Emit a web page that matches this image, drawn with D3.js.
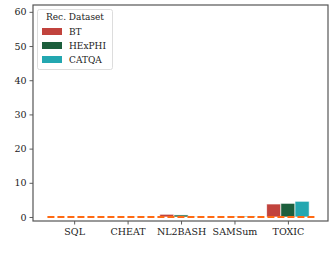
<!DOCTYPE html>
<html>
<head>
<meta charset="utf-8">
<script src="https://cdn.jsdelivr.net/npm/d3@7"></script>
<style>
  body { margin: 0; background: #fff; }
  text { font-family: "DejaVu Serif", serif; }
</style>
</head>
<body>
<div id="chart"></div>
<script>
var categories = ["SQL", "CHEAT", "NL2BASH", "SAMSum", "TOXIC"];
var seriesNames = ["BT", "HExPHI", "CATQA"];
var btValues = [0, 0, 0.8, 0, 3.8];
var hexphiValues = [0, 0, 0.6, 0.1, 4.0];
var catqaValues = [0, 0.05, 0.1, 0.3, 4.6];
var yTicks = [0, 10, 20, 30, 40, 50, 60];
var baseline = 0;

var colors = ["#c1433d", "#1c5e3c", "#23a7b0"];
var series = [btValues, hexphiValues, catqaValues];

var svgWidth = 332, svgHeight = 263;
var plotLeft = 33, plotRight = 328, plotTop = 5, plotBottom = 221;

var svg = d3.select("#chart").append("svg")
  .attr("width", svgWidth)
  .attr("height", svgHeight);

var x = d3.scaleLinear().domain([-0.77, 4.75]).range([plotLeft, plotRight]);
var y = d3.scaleLinear().domain([-1.17, 62]).range([plotBottom, plotTop]);

var barW = 0.265;

// bars
series.forEach(function(vals, s) {
  svg.append("g").selectAll("rect")
    .data(vals)
    .enter()
    .append("rect")
    .attr("x", function(d, i) { return x(i + (s - 1) * barW - barW / 2); })
    .attr("width", x(barW) - x(0))
    .attr("y", function(d) { return y(d); })
    .attr("height", function(d) { return y(0) - y(d); })
    .attr("fill", colors[s])
    .attr("stroke", "#fff")
    .attr("stroke-width", 0.8)
    .attr("stroke-opacity", 0.8);
});

// dashed baseline
svg.append("line")
  .attr("x1", x(-0.5))
  .attr("x2", x(4.5))
  .attr("y1", y(baseline))
  .attr("y2", y(baseline))
  .attr("stroke", "#ff6a13")
  .attr("stroke-width", 2.2)
  .attr("stroke-dasharray", "7,3");

// axes
var xAxis = svg.append("g")
  .attr("transform", "translate(0," + plotBottom + ")")
  .call(d3.axisBottom(x).tickValues(d3.range(categories.length))
    .tickFormat(function(d) { return categories[d]; })
    .tickSize(3.5).tickPadding(3.5));
var yAxis = svg.append("g")
  .attr("transform", "translate(" + plotLeft + ",0)")
  .call(d3.axisLeft(y).tickValues(yTicks).tickSize(3.5).tickPadding(3));

[xAxis, yAxis].forEach(function(a) {
  a.select(".domain").remove();
  a.selectAll("line").attr("stroke", "#333").attr("stroke-width", 0.8);
  a.selectAll("text").attr("font-size", 9.5).attr("fill", "#222")
    .style("font-family", "DejaVu Serif");
});

// frame
svg.append("rect")
  .attr("x", plotLeft).attr("y", plotTop)
  .attr("width", plotRight - plotLeft).attr("height", plotBottom - plotTop)
  .attr("fill", "none")
  .attr("stroke", "#555")
  .attr("stroke-width", 1.2);

// legend
var lg = svg.append("g");
lg.append("rect")
  .attr("x", 37.5).attr("y", 9.5)
  .attr("width", 75).attr("height", 60)
  .attr("rx", 2)
  .attr("fill", "#fff")
  .attr("fill-opacity", 0.8)
  .attr("stroke", "#ddd");
lg.append("text")
  .attr("x", 75).attr("y", 20)
  .attr("text-anchor", "middle")
  .attr("font-size", 9)
  .attr("fill", "#222")
  .text("Rec. Dataset");
seriesNames.forEach(function(name, i) {
  var yy = 28 + i * 14;
  lg.append("rect")
    .attr("x", 42).attr("y", yy)
    .attr("width", 20).attr("height", 7)
    .attr("fill", colors[i]);
  lg.append("text")
    .attr("x", 69).attr("y", yy + 7)
    .attr("font-size", 9)
    .attr("fill", "#222")
    .text(name);
});
</script>
</body>
</html>
